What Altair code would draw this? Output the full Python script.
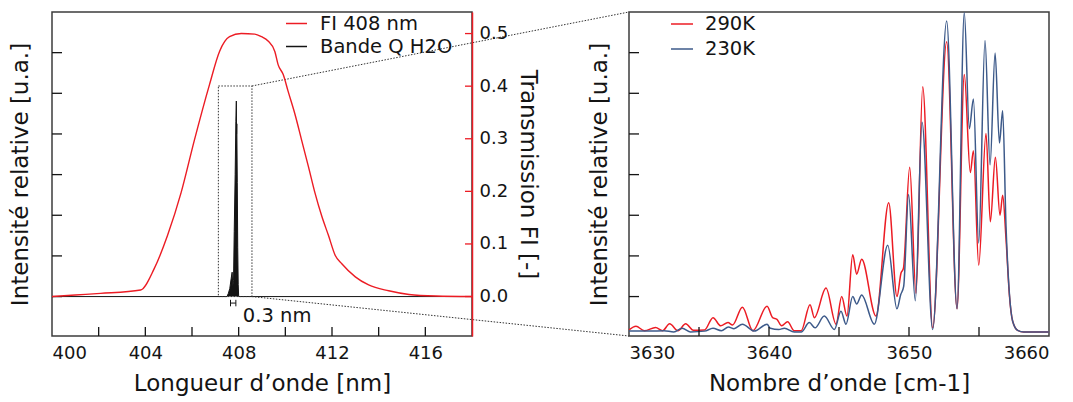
import altair as alt
import pandas as pd

RED = "#ec1c24"
BLUE = "#3d5a8a"
BLACK = "#141414"
FRAME = "#3c3c3c"
FONT = "DejaVu Sans"

# ---------------- left panel data ----------------
fi_nm = [400.0, 401.0, 402.08, 403.8, 404.38, 404.95, 405.53, 406.1, 406.75, 407.18,
         407.61, 408.11, 408.69, 408.98, 409.26, 409.55, 409.69, 409.91, 410.12, 410.41,
         410.7, 410.99, 411.27, 411.56, 411.85, 412.14, 412.42, 413.0, 413.57, 414.43,
         415.3, 416.45, 418.0]
fi_T = [0.0, 0.003, 0.006, 0.0125, 0.053, 0.116, 0.197, 0.297, 0.403, 0.466,
        0.494, 0.5, 0.499, 0.494, 0.486, 0.466, 0.441, 0.422, 0.39, 0.347,
        0.297, 0.247, 0.197, 0.153, 0.116, 0.078, 0.0625, 0.0375, 0.022, 0.011,
        0.004, 0.001, 0.0]

q_nm = [400.0, 407.50, 407.56, 407.62, 407.68, 407.72, 407.75, 407.78, 407.81, 407.85,
        407.88, 407.90, 407.91, 407.92, 407.94, 407.96, 407.98, 408.0, 418.0]
q_I = [0.0, 0.0, 0.08, 0.2, 0.45, 0.6, 0.25, 0.4, 1.6, 3.0,
       4.3, 4.81, 4.0, 4.25, 2.8, 1.2, 0.3, 0.0, 0.0]

box_nm = [407.13, 408.57]
box_top = 5.18
bar_nm = [407.65, 407.88]
bar_y = [-0.08, -0.16, -0.24]
note_pos = [408.18, -0.49]
note_text = "0.3 nm"

left_xlabels = [400, 404, 408, 412, 416]
left_xticks = [402, 404, 406, 408, 410, 412, 414, 416]
left_yticks = [0, 1, 2, 3, 4, 5, 6]
tr_ticks = [0.0, 0.1, 0.2, 0.3, 0.4, 0.5]

# ---------------- right panel data ----------------
w290 = [3630.0, 3630.5, 3631.1, 3631.9, 3632.4, 3632.9, 3633.5, 3634.05, 3634.6, 3635.4,
        3636.0, 3636.55, 3637.07, 3637.4, 3638.1, 3638.85, 3639.86, 3640.26, 3640.57, 3640.9,
        3641.33, 3641.8, 3642.3, 3642.93, 3643.24, 3644.07, 3644.79, 3645.19, 3645.57, 3645.98,
        3646.26, 3646.62, 3647.64, 3648.55, 3649.14, 3649.43, 3649.6, 3650.05, 3650.5, 3650.98,
        3651.69, 3652.69, 3653.43, 3653.95, 3654.38, 3654.6, 3654.98, 3655.5, 3655.81, 3656.17,
        3656.5, 3656.69, 3656.93, 3657.17, 3657.4, 3657.76, 3658.2, 3660.0]
i290 = [0.05, 0.14, 0.03, 0.11, 0.03, 0.2, 0.03, 0.2, 0.04, 0.05,
        0.35, 0.15, 0.23, 0.17, 0.61, 0.03, 0.63, 0.35, 0.31, 0.15,
        0.25, 0.03, 0.03, 0.67, 0.35, 1.08, 0.19, 0.87, 0.39, 1.9,
        1.42, 1.79, 0.39, 3.18, 0.87, 1.45, 1.56, 4.05, 0.95, 6.03,
        0.1, 7.14, 0.57, 6.33, 3.92, 4.46, 1.64, 4.88, 2.71, 4.3,
        2.87, 3.36, 2.29, 0.91, 0.27, 0.04, 0.0, 0.0]

w230 = [3630.0, 3631.5, 3632.5, 3633.2, 3633.8, 3634.4, 3635.4, 3636.0, 3636.6, 3637.1,
        3637.5, 3638.1, 3638.95, 3639.86, 3640.1, 3640.7, 3641.1, 3641.8, 3642.3, 3642.88,
        3643.29, 3643.95, 3644.67, 3645.14, 3645.5, 3645.98, 3646.26, 3646.62, 3647.52, 3648.48,
        3649.14, 3649.4, 3649.62, 3649.97, 3650.45, 3650.93, 3651.69, 3652.69, 3653.43, 3653.95,
        3654.31, 3654.6, 3654.98, 3655.43, 3655.79, 3656.15, 3656.46, 3656.69, 3656.93, 3657.17,
        3657.4, 3657.76, 3658.2, 3660.0]
i230 = [0.02, 0.02, 0.03, 0.0, 0.09, 0.0, 0.02, 0.09, 0.03, 0.12,
        0.08, 0.19, 0.02, 0.19, 0.09, 0.06, 0.09, 0.0, 0.0, 0.23,
        0.1, 0.39, 0.06, 0.51, 0.19, 0.87, 0.69, 0.91, 0.19, 2.13,
        0.57, 0.91, 1.12, 3.38, 0.77, 5.16, 0.06, 7.65, 0.57, 7.86,
        5.0, 5.73, 2.19, 7.17, 4.11, 6.86, 4.65, 5.44, 2.6, 0.95,
        0.27, 0.04, 0.0, 0.0]

right_xlabels = [3630, 3640, 3650, 3660]
right_xticks = [3635, 3640, 3645, 3650, 3655]
right_yticks = [0.87, 1.87, 2.87, 3.87, 4.87, 5.87, 6.87]

# ---------------- layout ----------------
LW, RW, H = 420, 420, 324
GAP = 157
L_DOM = [400, 418]
LY_DOM = [-0.97, 7.0]
TR_DOM = [-0.075, 0.541]
RX_DOM = [3630, 3660]
RY_DOM = [-0.1, 7.87]

# connector end (left edge of right panel) expressed in left-panel data units
x_end = L_DOM[1] + GAP * (L_DOM[1] - L_DOM[0]) / LW

# ---------------- left panel ----------------
xL = alt.X("x:Q", scale=alt.Scale(domain=L_DOM, nice=False, zero=False),
           axis=alt.Axis(values=left_xlabels, ticks=False, domain=False, grid=False,
                         labelFontSize=18, labelPadding=8, format="d",
                         title="Longueur d’onde [nm]", titleFontSize=23, titlePadding=10))
yL = alt.Y("y:Q", scale=alt.Scale(domain=LY_DOM, nice=False, zero=False),
           axis=alt.Axis(orient="left", labels=False, ticks=False, domain=False, grid=False,
                         title="Intensité relative [u.a.]", titleFontSize=23, titlePadding=20))
yT = alt.Y("y:Q", scale=alt.Scale(domain=TR_DOM, nice=False, zero=False),
           axis=alt.Axis(orient="right", values=tr_ticks, format=".1f", ticks=False,
                         domainColor=RED, domainWidth=1.5, grid=False, zindex=2,
                         labelFontSize=18, labelPadding=7,
                         title="Transmission FI [-]", titleFontSize=23, titlePadding=8))

left_legend = alt.Legend(title=None, orient="none", legendX=233, legendY=0,
                         symbolType="stroke", symbolSize=441, symbolStrokeWidth=1.5,
                         labelFont=FONT, labelFontSize=19.5, labelColor=BLACK,
                         labelOffset=12, rowPadding=2, padding=0)
colL = alt.Color("s:N", scale=alt.Scale(domain=["FI 408 nm", "Bande Q H2O"], range=[RED, BLACK]),
                 legend=left_legend)

q_df = pd.DataFrame({"x": q_nm, "y": q_I, "s": "Bande Q H2O"})
fi_df = pd.DataFrame({"x": fi_nm, "y": fi_T, "s": "FI 408 nm"})

q_area = alt.Chart(q_df).mark_area(color=BLACK, opacity=1).encode(x=xL, y=yL)
q_line = alt.Chart(q_df).mark_line(strokeWidth=1).encode(x=xL, y=yL, color=colL)

box = alt.Chart(pd.DataFrame({"x": [box_nm[0]], "x2": [box_nm[1]], "y": [0.0], "y2": [box_top]})).mark_rect(
    fillOpacity=0, stroke="#333333", strokeWidth=1, strokeDash=[1.5, 1.5]
).encode(x=xL, x2="x2:Q", y=yL, y2="y2:Q")

conn = alt.Chart(pd.DataFrame({
    "x": [box_nm[1], box_nm[1]], "x2": [x_end, x_end],
    "y": [box_top, 0.0], "y2": [LY_DOM[1], LY_DOM[0]]})).mark_rule(
    color="#333333", strokeWidth=1, strokeDash=[1.5, 1.5]
).encode(x=xL, x2="x2:Q", y=yL, y2="y2:Q")

bar_h = alt.Chart(pd.DataFrame({"x": [bar_nm[0]], "x2": [bar_nm[1]], "y": [bar_y[1]]})).mark_rule(
    color=BLACK, strokeWidth=1).encode(x=xL, x2="x2:Q", y=yL)
bar_v = alt.Chart(pd.DataFrame({"x": bar_nm, "y": [bar_y[0]] * 2, "y2": [bar_y[2]] * 2})).mark_rule(
    color=BLACK, strokeWidth=1).encode(x=xL, y=yL, y2="y2:Q")
note = alt.Chart(pd.DataFrame({"x": [note_pos[0]], "y": [note_pos[1]], "t": [note_text]})).mark_text(
    align="left", baseline="middle", font=FONT, fontSize=19.5, color=BLACK
).encode(x=xL, y=yL, text="t:N")

tickB = alt.Chart(pd.DataFrame({"x": left_xticks})).mark_rule(color=BLACK, strokeWidth=1.3).encode(
    x=xL, y=alt.value(H), y2=alt.value(H - 9))
tickLft = alt.Chart(pd.DataFrame({"y": left_yticks})).mark_rule(color=BLACK, strokeWidth=1.3).encode(
    y=yL, x=alt.value(0), x2=alt.value(10))

fi_line = alt.Chart(fi_df).mark_line(strokeWidth=1.4, interpolate="monotone").encode(x=xL, y=yT, color=colL)
tickR = alt.Chart(pd.DataFrame({"y": tr_ticks})).mark_rule(color=RED, strokeWidth=1.3).encode(
    y=yT, x=alt.value(LW - 7), x2=alt.value(LW))

left = alt.layer(
    alt.layer(q_area, q_line, box, conn, bar_h, bar_v, note, tickB, tickLft),
    alt.layer(fi_line, tickR),
).resolve_scale(y="independent").properties(width=LW, height=H)

# ---------------- right panel ----------------
xR = alt.X("x:Q", scale=alt.Scale(domain=RX_DOM, nice=False, zero=False),
           axis=alt.Axis(values=right_xlabels, ticks=False, domain=False, grid=False,
                         labelFontSize=18, labelPadding=8, format="d",
                         title="Nombre d’onde [cm-1]", titleFontSize=23, titlePadding=10))
yR = alt.Y("y:Q", scale=alt.Scale(domain=RY_DOM, nice=False, zero=False),
           axis=alt.Axis(labels=False, ticks=False, domain=False, grid=False,
                         title="Intensité relative [u.a.]", titleFontSize=23, titlePadding=18))
right_legend = alt.Legend(title=None, orient="none", legendX=41, legendY=0,
                          symbolType="stroke", symbolSize=484, symbolStrokeWidth=1.5,
                          labelFont=FONT, labelFontSize=19.5, labelColor=BLACK,
                          labelOffset=11, rowPadding=3, padding=0)
colR = alt.Color("s:N", scale=alt.Scale(domain=["290K", "230K"], range=[RED, BLUE]),
                 legend=right_legend)

s290 = alt.Chart(pd.DataFrame({"x": w290, "y": i290, "s": "290K"})).mark_line(
    strokeWidth=1.5, interpolate="monotone").encode(x=xR, y=yR, color=colR)
s230 = alt.Chart(pd.DataFrame({"x": w230, "y": i230, "s": "230K"})).mark_line(
    strokeWidth=1.5, interpolate="monotone").encode(x=xR, y=yR, color=colR)
tickRB = alt.Chart(pd.DataFrame({"x": right_xticks})).mark_rule(color=BLACK, strokeWidth=1.3).encode(
    x=xR, y=alt.value(H), y2=alt.value(H - 9))
tickRL = alt.Chart(pd.DataFrame({"y": right_yticks})).mark_rule(color=BLACK, strokeWidth=1.3).encode(
    y=yR, x=alt.value(0), x2=alt.value(10))

right = alt.layer(s290, s230, tickRB, tickRL).properties(width=RW, height=H)

chart = alt.hconcat(left, right, spacing=GAP, bounds="flush", padding=0).resolve_scale(
    color="independent"
).configure_view(stroke=FRAME, strokeWidth=1.5).configure_axis(
    labelFont=FONT, titleFont=FONT, labelColor=BLACK, titleColor=BLACK, titleFontWeight="normal"
)

chart.save("out.html", embed_options={"renderer": "svg", "actions": False})
